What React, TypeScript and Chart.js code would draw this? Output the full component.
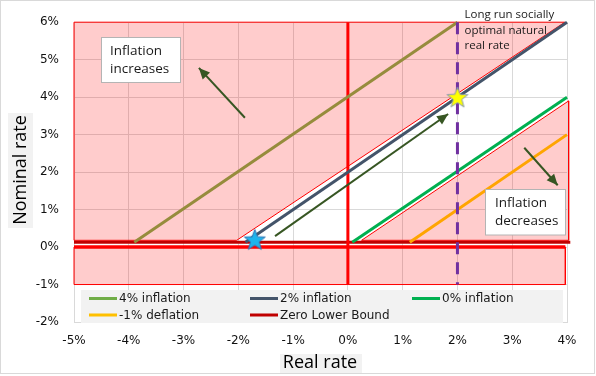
import React, { useEffect, useRef } from 'react';
import { Chart, registerables } from 'chart.js';

Chart.register(...registerables);

// ---------------- data ----------------
const xTickValues = [-5, -4, -3, -2, -1, 0, 1, 2, 3, 4];
const xTickLabels = ['-5%', '-4%', '-3%', '-2%', '-1%', '0%', '1%', '2%', '3%', '4%'];
const yTickValues = [-2, -1, 0, 1, 2, 3, 4, 5, 6];
const yTickLabels = ['-2%', '-1%', '0%', '1%', '2%', '3%', '4%', '5%', '6%'];
const seriesNames = ['4% inflation', '2% inflation', '0% inflation', '-1% deflation', 'Zero Lower Bound'];

const inflation4 = [{ x: -3.9, y: 0.13 }, { x: 2, y: 6 }];
const inflation2 = [{ x: -1.87, y: 0.13 }, { x: 4, y: 6 }];
const inflation0 = [{ x: 0.08, y: 0.13 }, { x: 4, y: 4 }];
const deflation1 = [{ x: 1.13, y: 0.13 }, { x: 4, y: 3 }];
const zeroLowerBound = [{ x: -5, y: 0.13 }, { x: 4.06, y: 0.13 }];
const zlbEdge = [{ x: -5, y: 0.0 }, { x: 3.97, y: 0.0 }];

const upperRegion = [{ x: -5, y: 0.18 }, { x: -5, y: 6 }, { x: 3.96, y: 6 }, { x: -2.03, y: 0.18 }, { x: -5, y: 0.18 }];
const rightRegion = [{ x: 0.25, y: 0.18 }, { x: 4.03, y: 3.9 }, { x: 4.03, y: 0.18 }, { x: 0.25, y: 0.18 }];
const lowerBand = [{ x: -5, y: 0 }, { x: 3.97, y: 0 }, { x: 3.97, y: -1 }, { x: -5, y: -1 }, { x: -5, y: 0 }];

const zeroRealRate = [{ x: 0, y: 6 }, { x: 0, y: -1 }];
const naturalRealRate = [{ x: 2, y: 6 }, { x: 2, y: -1 }];

const arrowAlong = [{ x: -1.33, y: 0.29 }, { x: 1.83, y: 3.55 }];
const arrowUp = [{ x: -1.88, y: 3.45 }, { x: -2.72, y: 4.78 }];
const arrowDown = [{ x: 3.22, y: 2.65 }, { x: 3.83, y: 1.65 }];

const steadyStateStar = [{ x: 2, y: 4 }];
const trapStar = [{ x: -1.7, y: 0.2 }];

const textBoxes = [
  { lines: ['Inflation', 'increases'] },
  { lines: ['Inflation', 'decreases'] },
];
const naturalRateNote = ['Long run socially', 'optimal natural', 'real rate'];
const xTitle = 'Real rate';
const yTitle = 'Nominal rate';

// ---------------- styles ----------------
const COLORS = {
  olive: '#968C3C',
  navy: '#44546A',
  green: '#00B050',
  orange: '#FFA500',
  zlb: '#C00000',
  red: '#FF0000',
  purple: '#7030A0',
  arrow: '#375623',
  pink: 'rgba(255,0,0,0.2)',
  grid: '#D9D9D9',
};
const LEGEND_COLORS = ['#70AD47', '#44546A', '#00B050', '#FFC000', '#C00000'];
const TEXT = '#1a1a1a';
const TICK_FONT = '"DejaVu Sans", sans-serif';
const LABEL_FONT = '"Open Sans", sans-serif';

function makeStar(r: number, fill: string, stroke: string) {
  const size = Math.ceil(2 * r + 4);
  const c = document.createElement('canvas');
  c.width = size;
  c.height = size;
  const g = c.getContext('2d')!;
  const cx = size / 2;
  const cy = size / 2 + r * 0.08;
  g.beginPath();
  for (let i = 0; i < 10; i++) {
    const rad = i % 2 === 0 ? r : r * 0.42;
    const a = -Math.PI / 2 + (i * Math.PI) / 5;
    const px = cx + rad * Math.cos(a);
    const py = cy + rad * Math.sin(a);
    if (i === 0) g.moveTo(px, py);
    else g.lineTo(px, py);
  }
  g.closePath();
  g.fillStyle = fill;
  g.fill();
  g.lineWidth = 1;
  g.strokeStyle = stroke;
  g.stroke();
  return c;
}

const decorations = {
  id: 'decorations',
  beforeDraw(chart: any) {
    const ctx = chart.ctx;
    ctx.save();
    ctx.fillStyle = '#FFFFFF';
    ctx.fillRect(0, 0, chart.width, chart.height);
    ctx.strokeStyle = COLORS.grid;
    ctx.lineWidth = 1;
    ctx.strokeRect(0.5, 0.5, 594, 373);
    // axis titles
    ctx.fillStyle = '#F2F2F2';
    ctx.fillRect(8, 113, 25, 115);
    ctx.fillRect(280, 354, 82, 19);
    ctx.fillStyle = '#000';
    ctx.font = `18px ${LABEL_FONT}`;
    ctx.textAlign = 'center';
    ctx.textBaseline = 'middle';
    ctx.fillText(xTitle, 320, 363);
    ctx.save();
    ctx.translate(21, 170);
    ctx.rotate(-Math.PI / 2);
    ctx.fillText(yTitle, 0, 0);
    ctx.restore();
    ctx.restore();
  },
  afterDatasetsDraw(chart: any) {
    const ctx = chart.ctx;
    ctx.save();
    // arrowheads
    chart.data.datasets.forEach((ds: any, i: number) => {
      if (!ds.arrowHead) return;
      const pts = chart.getDatasetMeta(i).data;
      const a = pts[pts.length - 2];
      const b = pts[pts.length - 1];
      const ang = Math.atan2(b.y - a.y, b.x - a.x);
      const L = 11;
      const W = 5;
      ctx.fillStyle = ds.borderColor;
      ctx.beginPath();
      ctx.moveTo(b.x, b.y);
      ctx.lineTo(b.x - L * Math.cos(ang) + W * Math.sin(ang), b.y - L * Math.sin(ang) - W * Math.cos(ang));
      ctx.lineTo(b.x - L * Math.cos(ang) - W * Math.sin(ang), b.y - L * Math.sin(ang) + W * Math.cos(ang));
      ctx.closePath();
      ctx.fill();
    });
    // text boxes
    const boxes = [
      { x: 101.5, y: 37.5, w: 79, h: 45, tx: 110, ty: 51 },
      { x: 485.5, y: 189.5, w: 80, h: 45.5, tx: 495, ty: 203.5 },
    ];
    ctx.font = `13.5px ${LABEL_FONT}`;
    ctx.textBaseline = 'middle';
    ctx.textAlign = 'left';
    textBoxes.forEach((tb, i) => {
      const b = boxes[i];
      ctx.fillStyle = '#FFFFFF';
      ctx.fillRect(b.x, b.y, b.w, b.h);
      ctx.strokeStyle = '#B4B4B4';
      ctx.lineWidth = 1;
      ctx.strokeRect(b.x, b.y, b.w, b.h);
      ctx.fillStyle = TEXT;
      tb.lines.forEach((ln, j) => ctx.fillText(ln, b.tx, b.ty + j * 17.8));
    });
    ctx.font = `11.5px ${LABEL_FONT}`;
    naturalRateNote.forEach((ln, j) => ctx.fillText(ln, 464.5, 14.5 + j * 15.8));
    ctx.restore();
  },
  afterDraw(chart: any) {
    const ctx = chart.ctx;
    ctx.save();
    ctx.fillStyle = '#F2F2F2';
    ctx.fillRect(81, 290, 482, 33);
    const cols = [89, 250, 412];
    const rows = [298.5, 315];
    ctx.font = `12px ${TICK_FONT}`;
    ctx.textBaseline = 'middle';
    ctx.textAlign = 'left';
    seriesNames.forEach((name, i) => {
      const x = cols[i % 3];
      const y = rows[Math.floor(i / 3)];
      ctx.strokeStyle = LEGEND_COLORS[i];
      ctx.lineWidth = 3;
      ctx.beginPath();
      ctx.moveTo(x, y);
      ctx.lineTo(x + 28, y);
      ctx.stroke();
      ctx.fillStyle = TEXT;
      ctx.fillText(name, x + 30, y + 0.5);
    });
    ctx.restore();
  },
};

export default function App() {
  const ref = useRef<HTMLCanvasElement | null>(null);

  useEffect(() => {
    document.body.style.margin = '0';
    const canvas = ref.current!;
    const yellowStar = makeStar(11, '#FFFF00', '#8497B0');
    const blueStar = makeStar(11, '#1FB4EC', '#2E75B6');

    const line = (data: any, color: string, width: number, extra: any = {}) => ({
      data,
      borderColor: color,
      backgroundColor: color,
      borderWidth: width,
      pointRadius: 0,
      fill: false,
      clip: false,
      ...extra,
    });
    const region = (data: any) => ({
      data,
      borderColor: COLORS.red,
      backgroundColor: COLORS.pink,
      borderWidth: 1,
      pointRadius: 0,
      fill: 'shape',
      clip: false,
    });

    const chart = new Chart(canvas, {
      type: 'line',
      data: {
        datasets: [
          { data: steadyStateStar, pointStyle: yellowStar, pointRadius: 10, showLine: false, borderWidth: 0 },
          { data: trapStar, pointStyle: blueStar, pointRadius: 10, showLine: false, borderWidth: 0 },
          line(arrowAlong, COLORS.arrow, 2, { arrowHead: true }),
          line(arrowUp, COLORS.arrow, 2, { arrowHead: true }),
          line(arrowDown, COLORS.arrow, 2, { arrowHead: true }),
          line(naturalRealRate, COLORS.purple, 3, { borderDash: [12, 8] }),
          line(inflation2, COLORS.navy, 3),
          line(inflation4, COLORS.olive, 3),
          line(inflation0, COLORS.green, 3),
          line(deflation1, COLORS.orange, 3),
          line(zeroRealRate, COLORS.red, 3),
          line(zeroLowerBound, COLORS.zlb, 3),
          line(zlbEdge, COLORS.red, 3.5),
          region(rightRegion),
          region(upperRegion),
          region(lowerBand),
        ] as any,
      },
      options: {
        animation: false,
        responsive: false,
        devicePixelRatio: 1,
        layout: { padding: { top: 21, right: 29, left: 0, bottom: 0 } },
        plugins: { legend: { display: false }, tooltip: { enabled: false } },
        elements: { line: { tension: 0 } },
        scales: {
          x: {
            type: 'linear',
            min: -5,
            max: 4,
            ticks: {
              stepSize: 1,
              padding: 12,
              color: '#111',
              font: { family: TICK_FONT, size: 12 },
              callback: (v: any) => {
                const i = xTickValues.indexOf(Math.round(Number(v)));
                return i >= 0 ? xTickLabels[i] : '';
              },
            },
            grid: { color: COLORS.grid, drawTicks: false },
            border: { color: COLORS.grid },
            afterFit: (s: any) => {
              s.height = 54;
            },
          },
          y: {
            type: 'linear',
            min: -2,
            max: 6,
            ticks: {
              stepSize: 1,
              padding: 15,
              color: '#111',
              font: { family: TICK_FONT, size: 12 },
              callback: (v: any) => {
                const i = yTickValues.indexOf(Math.round(Number(v)));
                return i >= 0 ? yTickLabels[i] : '';
              },
            },
            grid: { color: COLORS.grid, drawTicks: false },
            border: { color: COLORS.grid },
            afterFit: (s: any) => {
              s.width = 74;
            },
          },
        },
      } as any,
      plugins: [decorations],
    });
    return () => chart.destroy();
  }, []);

  return (
    <canvas
      ref={ref}
      width={596}
      height={376}
      style={{ display: 'block', position: 'fixed', left: 0, top: 0, width: '596px', height: '376px' }}
    />
  );
}
